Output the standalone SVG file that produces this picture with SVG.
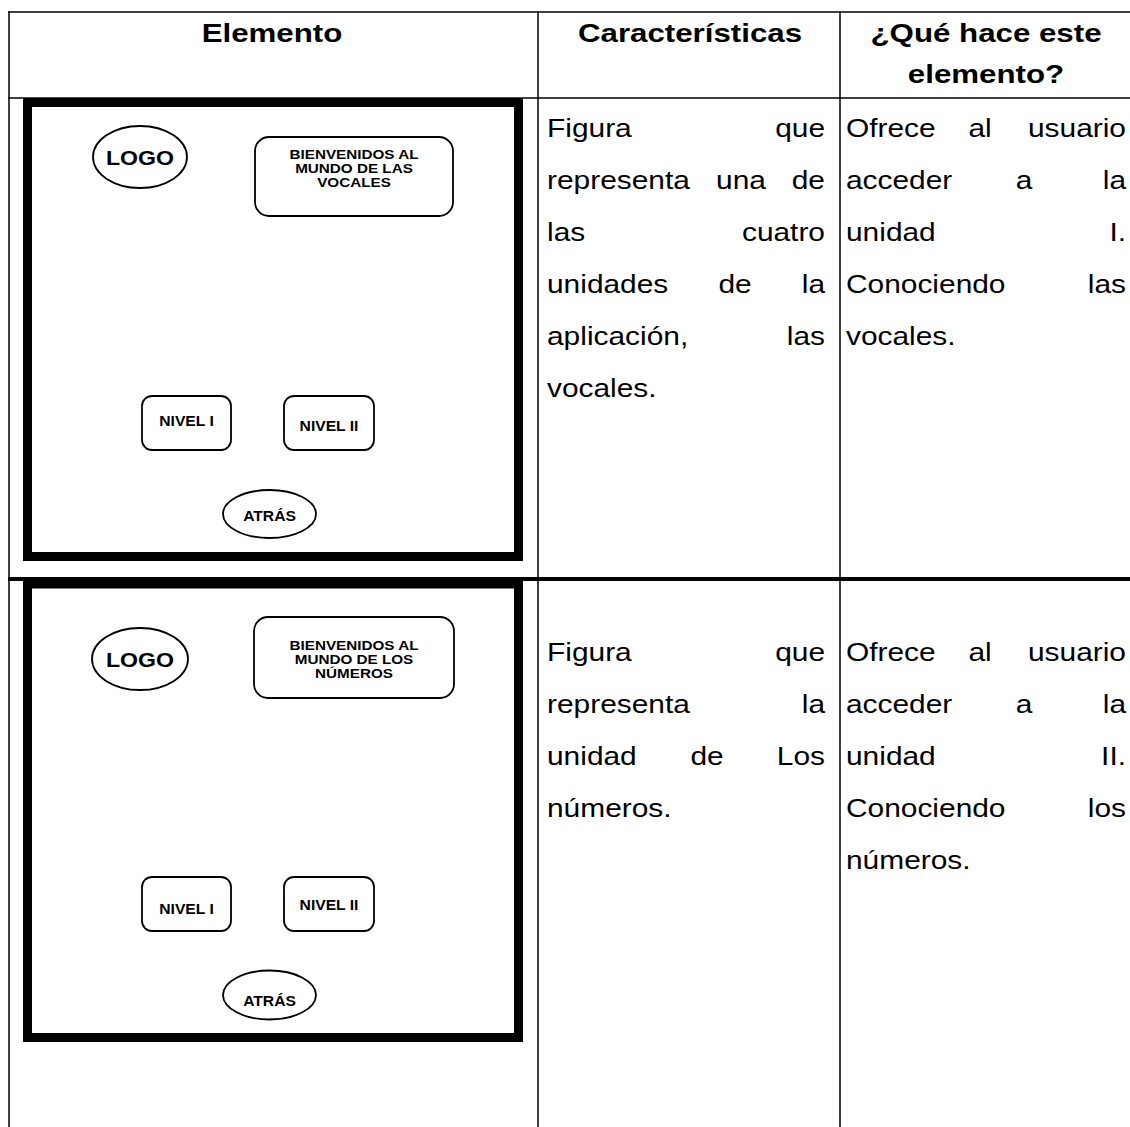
<svg xmlns="http://www.w3.org/2000/svg" width="1130" height="1127" viewBox="0 0 1130 1127">
  <style>
    text { font-family: "Liberation Sans", Arial, sans-serif; fill: #000; }
    .hd { font-size: 26.5px; font-weight: bold; text-anchor: middle; }
    .tx { font-size: 26px; }
    .tx.e { text-anchor: end; }
    .tx.m { text-anchor: middle; }
    .lb { font-weight: bold; text-anchor: middle; }
    .grid { stroke: #000; fill: none; }
    .frame { fill: none; stroke: #000; stroke-width: 9; }
    .shape { fill: #fff; stroke: #000; stroke-width: 1.8; }
  </style>

  <rect width="1130" height="1127" fill="#fff"/>

  <!-- table rules -->
  <g id="table-lines" class="grid">
    <line x1="8" y1="12" x2="1130" y2="12" stroke-width="1.5"/>
    <line x1="8" y1="98" x2="1130" y2="98" stroke-width="1.5"/>
    <line x1="8" y1="579" x2="1130" y2="579" stroke-width="4"/>
    <line x1="9" y1="11.3" x2="9" y2="1127" stroke-width="1.5"/>
    <line x1="538" y1="11.3" x2="538" y2="1127" stroke-width="1.5"/>
    <line x1="840" y1="11.3" x2="840" y2="1127" stroke-width="1.5"/>
  </g>

  <!-- column headings -->
  <g id="headings">
    <text class="hd" transform="translate(272 42) scale(1.18 1)">Elemento</text>
    <text class="hd" transform="translate(690 42) scale(1.18 1)">Características</text>
    <text class="hd" transform="translate(986 42) scale(1.18 1)">¿Qué hace este</text>
    <text class="hd" transform="translate(986 83) scale(1.18 1)">elemento?</text>
  </g>

  <!-- screen mock-up: unit I, vowels -->
  <g id="screen-vocales">
    <rect class="frame" x="27.5" y="102.5" width="491" height="454"/>
    <g id="logo-1">
      <ellipse class="shape" cx="140" cy="157" rx="47" ry="31"/>
      <text class="lb" font-size="21" transform="translate(140 165) scale(1.1 1)">LOGO</text>
    </g>
    <g id="welcome-1">
      <rect class="shape" x="255" y="137" width="198" height="79" rx="14"/>
      <text class="lb" font-size="13.5" transform="translate(354 159) scale(1.13 1)">BIENVENIDOS AL</text>
      <text class="lb" font-size="13.5" transform="translate(354 173) scale(1.13 1)">MUNDO DE LAS</text>
      <text class="lb" font-size="13.5" transform="translate(354 187) scale(1.13 1)">VOCALES</text>
    </g>
    <g id="nivel1-1">
      <rect class="shape" x="142" y="396" width="89" height="54" rx="10"/>
      <text class="lb" font-size="14.5" transform="translate(186.5 426) scale(1.08 1)">NIVEL I</text>
    </g>
    <g id="nivel2-1">
      <rect class="shape" x="284" y="396" width="90" height="54" rx="10"/>
      <text class="lb" font-size="14.5" transform="translate(329 431) scale(1.08 1)">NIVEL II</text>
    </g>
    <g id="atras-1">
      <ellipse class="shape" cx="269.5" cy="514" rx="46.5" ry="24"/>
      <text class="lb" font-size="14.5" transform="translate(269.5 521) scale(1.08 1)">ATRÁS</text>
    </g>
  </g>

  <!-- screen mock-up: unit II, numbers -->
  <g id="screen-numeros">
    <rect class="frame" x="27.5" y="584" width="491" height="453.5"/>
    <g id="logo-2">
      <ellipse class="shape" cx="140" cy="659" rx="48" ry="31"/>
      <text class="lb" font-size="21" transform="translate(140 667) scale(1.1 1)">LOGO</text>
    </g>
    <g id="welcome-2">
      <rect class="shape" x="254" y="617" width="200" height="81" rx="14"/>
      <text class="lb" font-size="13.5" transform="translate(354 650) scale(1.13 1)">BIENVENIDOS AL</text>
      <text class="lb" font-size="13.5" transform="translate(354 664) scale(1.13 1)">MUNDO DE LOS</text>
      <text class="lb" font-size="13.5" transform="translate(354 678) scale(1.13 1)">NÚMEROS</text>
    </g>
    <g id="nivel1-2">
      <rect class="shape" x="142" y="877" width="89" height="54" rx="10"/>
      <text class="lb" font-size="14.5" transform="translate(186.5 914) scale(1.08 1)">NIVEL I</text>
    </g>
    <g id="nivel2-2">
      <rect class="shape" x="284" y="877" width="90" height="54" rx="10"/>
      <text class="lb" font-size="14.5" transform="translate(329 910) scale(1.08 1)">NIVEL II</text>
    </g>
    <g id="atras-2">
      <ellipse class="shape" cx="269.5" cy="995" rx="46.5" ry="24.5"/>
      <text class="lb" font-size="14.5" transform="translate(269.5 1006) scale(1.08 1)">ATRÁS</text>
    </g>
  </g>

  <!-- justified body text, row 1 -->
  <g id="caracteristicas-1">
    <text class="tx" transform="translate(547 137) scale(1.15 1)">Figura</text>
    <text class="tx e" transform="translate(825 137) scale(1.15 1)">que</text>
    <text class="tx" transform="translate(547 189) scale(1.15 1)">representa</text>
    <text class="tx m" transform="translate(741 189) scale(1.15 1)">una</text>
    <text class="tx e" transform="translate(825 189) scale(1.15 1)">de</text>
    <text class="tx" transform="translate(547 241) scale(1.15 1)">las</text>
    <text class="tx e" transform="translate(825 241) scale(1.15 1)">cuatro</text>
    <text class="tx" transform="translate(547 293) scale(1.15 1)">unidades</text>
    <text class="tx m" transform="translate(735 293) scale(1.15 1)">de</text>
    <text class="tx e" transform="translate(825 293) scale(1.15 1)">la</text>
    <text class="tx" transform="translate(547 345) scale(1.15 1)">aplicación,</text>
    <text class="tx e" transform="translate(825 345) scale(1.15 1)">las</text>
    <text class="tx" transform="translate(547 397) scale(1.15 1)">vocales.</text>
  </g>
  <g id="funcion-1">
    <text class="tx" transform="translate(846 137) scale(1.15 1)">Ofrece</text>
    <text class="tx m" transform="translate(980 137) scale(1.15 1)">al</text>
    <text class="tx e" transform="translate(1126 137) scale(1.15 1)">usuario</text>
    <text class="tx" transform="translate(846 189) scale(1.15 1)">acceder</text>
    <text class="tx m" transform="translate(1024 189) scale(1.15 1)">a</text>
    <text class="tx e" transform="translate(1126 189) scale(1.15 1)">la</text>
    <text class="tx" transform="translate(846 241) scale(1.15 1)">unidad</text>
    <text class="tx e" transform="translate(1126 241) scale(1.15 1)">I.</text>
    <text class="tx" transform="translate(846 293) scale(1.15 1)">Conociendo</text>
    <text class="tx e" transform="translate(1126 293) scale(1.15 1)">las</text>
    <text class="tx" transform="translate(846 345) scale(1.15 1)">vocales.</text>
  </g>

  <!-- justified body text, row 2 -->
  <g id="caracteristicas-2">
    <text class="tx" transform="translate(547 661) scale(1.15 1)">Figura</text>
    <text class="tx e" transform="translate(825 661) scale(1.15 1)">que</text>
    <text class="tx" transform="translate(547 713) scale(1.15 1)">representa</text>
    <text class="tx e" transform="translate(825 713) scale(1.15 1)">la</text>
    <text class="tx" transform="translate(547 765) scale(1.15 1)">unidad</text>
    <text class="tx m" transform="translate(707 765) scale(1.15 1)">de</text>
    <text class="tx e" transform="translate(825 765) scale(1.15 1)">Los</text>
    <text class="tx" transform="translate(547 817) scale(1.15 1)">números.</text>
  </g>
  <g id="funcion-2">
    <text class="tx" transform="translate(846 661) scale(1.15 1)">Ofrece</text>
    <text class="tx m" transform="translate(980 661) scale(1.15 1)">al</text>
    <text class="tx e" transform="translate(1126 661) scale(1.15 1)">usuario</text>
    <text class="tx" transform="translate(846 713) scale(1.15 1)">acceder</text>
    <text class="tx m" transform="translate(1024 713) scale(1.15 1)">a</text>
    <text class="tx e" transform="translate(1126 713) scale(1.15 1)">la</text>
    <text class="tx" transform="translate(846 765) scale(1.15 1)">unidad</text>
    <text class="tx e" transform="translate(1126 765) scale(1.15 1)">II.</text>
    <text class="tx" transform="translate(846 817) scale(1.15 1)">Conociendo</text>
    <text class="tx e" transform="translate(1126 817) scale(1.15 1)">los</text>
    <text class="tx" transform="translate(846 869) scale(1.15 1)">números.</text>
  </g>
</svg>
